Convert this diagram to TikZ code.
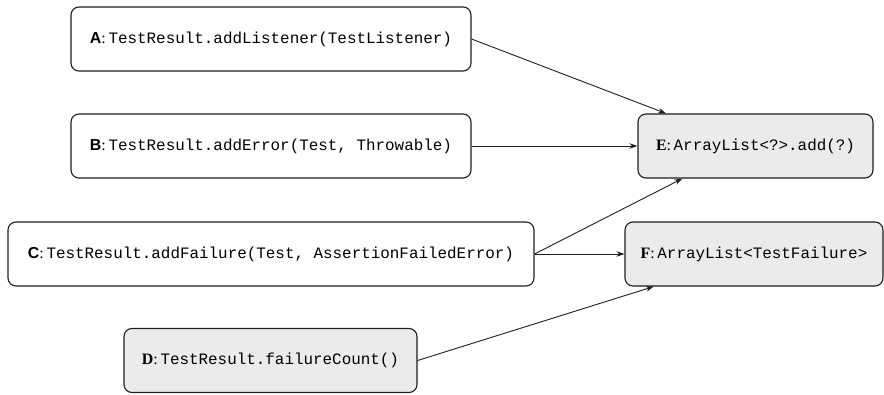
\documentclass[tikz,border=0pt]{standalone}
\usepackage{fontspec}
\setmainfont{Liberation Serif}
\setmonofont{Liberation Mono}
\newfontfamily\hsans{Liberation Sans}
\usetikzlibrary{arrows.meta}
\definecolor{edgegray}{RGB}{30,30,30}
\definecolor{boxgray}{RGB}{235,235,235}
\begin{document}
\begin{tikzpicture}[x=1pt,y=-1pt,
  call/.style={draw=edgegray,line width=1.1pt,rounded corners=8pt,inner sep=0pt,
    minimum height=64pt,font=\fontsize{15.9}{18}\selectfont},
  target/.style={call,fill=boxgray},
  link/.style={draw=edgegray,line width=0.9pt,-{Stealth[length=8pt,width=5.5pt]}}]
\useasboundingbox (0,0) rectangle (884,394);
% method nodes on the left
\node[call,minimum width=400pt] (A) at (271,39)
  {{\hsans\bfseries A}:\,\texttt{TestResult.addListener(TestListener)}};
\node[call,minimum width=400pt] (B) at (271,146)
  {{\hsans\bfseries B}:\,\texttt{TestResult.addError(Test, Throwable)}};
\node[call,minimum width=526pt] (C) at (271,254)
  {{\hsans\bfseries C}:\,\texttt{TestResult.addFailure(Test, AssertionFailedError)}};
\node[target,minimum width=293pt] (D) at (270.5,360.5)
  {\textbf{D}:\,\texttt{TestResult.failureCount()}};
% collection nodes on the right
\node[target,minimum width=235pt] (E) at (755.5,146)
  {\textbf{E}:\,\texttt{ArrayList<?>.add(?)}};
\node[target,minimum width=258pt] (F) at (754,254)
  {\textbf{F}:\,\texttt{ArrayList<TestFailure>}};
% connectors
\draw[link] (A.east) -- (E.160.5);
\draw[link] (B.east) -- (E.west);
\draw[link] (C.east) -- (E.204);
\draw[link] (C.east) -- (F.west);
\draw[link] (D.east) -- (F.198);
\end{tikzpicture}
\end{document}
